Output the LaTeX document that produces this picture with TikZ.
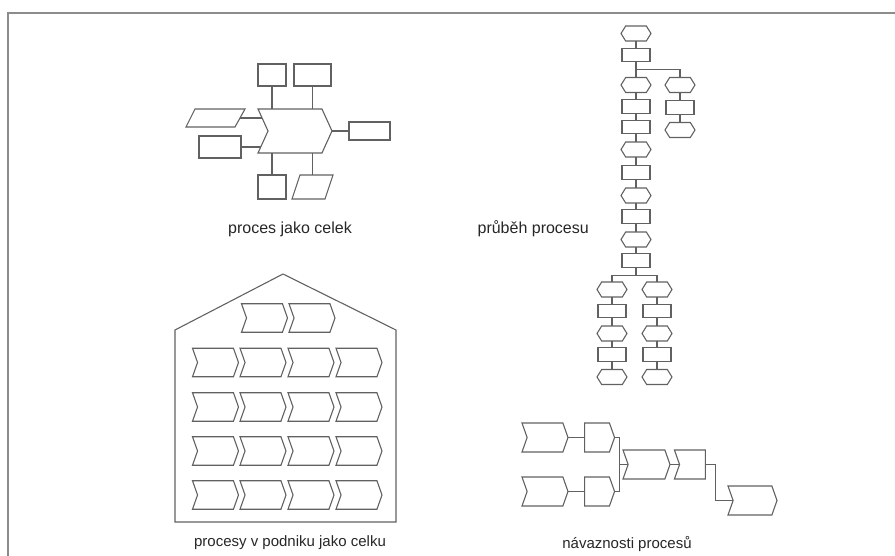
\documentclass[tikz,border=0pt]{standalone}
\usepackage{fontspec}
\setmainfont{Liberation Sans}
\usetikzlibrary{shapes.symbols,shapes.geometric,calc}
\begin{document}
\begin{tikzpicture}[x=1pt,y=-1pt,
  ln/.style={draw=black!62, line width=1.1pt},
  frame/.style={draw=black!45, line width=1.4pt},
  box/.style 2 args={ln, rectangle, inner sep=0pt, outer sep=0pt,
    minimum width=#1, minimum height=#2},
  slot/.style 2 args={rectangle, inner sep=0pt, outer sep=0pt,
    minimum width=#1, minimum height=#2},
  chev/.style 2 args={ln, signal, signal from=west, signal to=east,
    signal pointer angle=141, inner sep=0pt, outer sep=0pt,
    minimum width=#1, minimum height=#2},
  headbox/.style 2 args={chev={#1}{#2}, signal from=nowhere},
  tailbox/.style 2 args={chev={#1}{#2}, signal to=nowhere},
  hexa/.style={ln, signal, signal to=east and west, signal pointer angle=116,
    inner sep=0pt, outer sep=0pt, minimum width=30, minimum height=15},
  cell/.style={box={28}{13.5}},
  lbl/.style={font=\fontsize{15}{18}\selectfont, text=black!85, inner sep=0pt},
  biglbl/.style={lbl, font=\fontsize{16}{19}\selectfont},
  wire/.style={ln}]
\useasboundingbox (0,0) rectangle (895,556);
\draw[frame] (8,556) -- (8,13) -- (895,13);

% ---- process as a whole ----
\node[chev={74}{44}, signal pointer angle=131] (main) at (295,131) {};
\node[box={28}{22}] (inA) at (272,75) {};
\node[box={37}{22}] (inB) at (312.5,75) {};
\node[slot={59}{18}] (inC) at (215.5,118) {};
\draw[ln] ([xshift=9]inC.north west) -- (inC.north east)
  -- ([xshift=-10]inC.south east) -- (inC.south west) -- cycle;
\node[box={42}{22}] (inD) at (220,147) {};
\node[box={41}{18}] (outA) at (369.5,131) {};
\node[box={28}{24}] (resA) at (272,187) {};
\node[slot={41}{24}] (resB) at (312.5,187) {};
\draw[ln] ([xshift=8]resB.north west) -- (resB.north east)
  -- ([xshift=-8]resB.south east) -- (resB.south west) -- cycle;
\draw[wire] (inA.south) -- (inA.south |- main.north);
\draw[wire] (inB.south) -- (inB.south |- main.north);
\draw[wire] (resA.north) -- (resA.north |- main.south);
\draw[wire] (resB.north) -- (resB.north |- main.south);
\draw[wire] ([xshift=-5]inC.east) -- ([xshift=-6]inC.east -| main.west);
\draw[wire] (inD.east) -- ([xshift=-7.3]inD.east -| main.west);
\draw[wire] (main.east) -- (outA.west);
\node[biglbl] (t1) at (290,229) {proces jako celek};

% ---- course of the process ----
\node[hexa] (h1) at (636,33.5) {};
\node[cell] (r1) at (636,55) {};
\node[hexa] (h2) at (636,85) {};
\node[cell] (r2) at (636,106.5) {};
\node[cell] (r3) at (636,127) {};
\node[hexa] (h3) at (636,149.5) {};
\node[cell] (r4) at (636,172.5) {};
\node[hexa] (h4) at (636,195.5) {};
\node[cell] (r5) at (636,216.5) {};
\node[hexa] (h5) at (636,239.5) {};
\node[cell] (r6) at (636,260.5) {};
\node[hexa] (b1) at (680,85) {};
\node[cell] (b2) at (680,107.5) {};
\node[hexa] (b3) at (680,130) {};
\foreach \a/\b in {h1/r1,r1/h2,h2/r2,r2/r3,r3/h3,h3/r4,r4/h4,h4/r5,r5/h5,h5/r6,b1/b2,b2/b3}
  \draw[wire] (\a.south) -- (\b.north);
\draw[wire] ($(r1.south)!0.5!(h2.north)$) -| (b1.north);
\foreach \c/\x in {L/612,R/657} {
  \node[hexa] (\c1) at (\x,289.5) {};
  \node[cell] (\c2) at (\x,311) {};
  \node[hexa] (\c3) at (\x,333.5) {};
  \node[cell] (\c4) at (\x,354.5) {};
  \node[hexa] (\c5) at (\x,377) {};
  \foreach \a/\b in {1/2,2/3,3/4,4/5}
    \draw[wire] (\c\a.south) -- (\c\b.north);
}
\coordinate (fork) at ($(r6.south)+(0,8.5)$);
\draw[wire] (r6.south) -- (fork);
\draw[wire] (L1.north) |- (fork) -| (R1.north);
\node[biglbl, anchor=east] (t2) at (589,229) {průběh procesu};

% ---- processes in the company as a whole ----
\draw[ln] (175,522) -- (175,330) -- (283,274) -- (396,330) -- (396,522) -- cycle;
\node[chev={46}{28.5}] (top1) at (264.5,318) {};
\node[chev={46}{28.5}] (top2) at (312,318) {};
\foreach \r/\y in {1/362.5,2/407,3/451,4/495}
  \foreach \c/\x in {1/215.5,2/263,3/311,4/359}
    \node[chev={46}{28.5}] (p\r\c) at (\x,\y) {};
\node[lbl] (t3) at (290,543) {procesy v podniku jako celku};

% ---- process sequences ----
\node[chev={46}{29}] (A) at (545,437.5) {};
\node[headbox={30}{29}] (B) at (597,437.5) {};
\node[chev={46}{29}] (C) at (545,491.5) {};
\node[headbox={30}{29}] (D) at (597,491.5) {};
\node[chev={47}{29}] (E) at (646.5,464.5) {};
\node[tailbox={31}{29}] (F) at (692.5,464.5) {};
\node[chev={49}{29}] (G) at (752.5,500.5) {};
\coordinate (join) at ($(B.east)!0.5!(D.east)+(5,0)$);
\draw[wire] (A.east) -- (B.west);
\draw[wire] (C.east) -- (D.west);
\draw[wire] (B.east) -| (join) |- (D.east);
\draw[wire] (join) -- (E.west);
\draw[wire] (E.east) -- (F.west);
\draw[wire] (F.east) -- ++(10,0) |- (G.west);
\node[lbl] (t4) at (627,544) {návaznosti procesů};
\end{tikzpicture}
\end{document}
